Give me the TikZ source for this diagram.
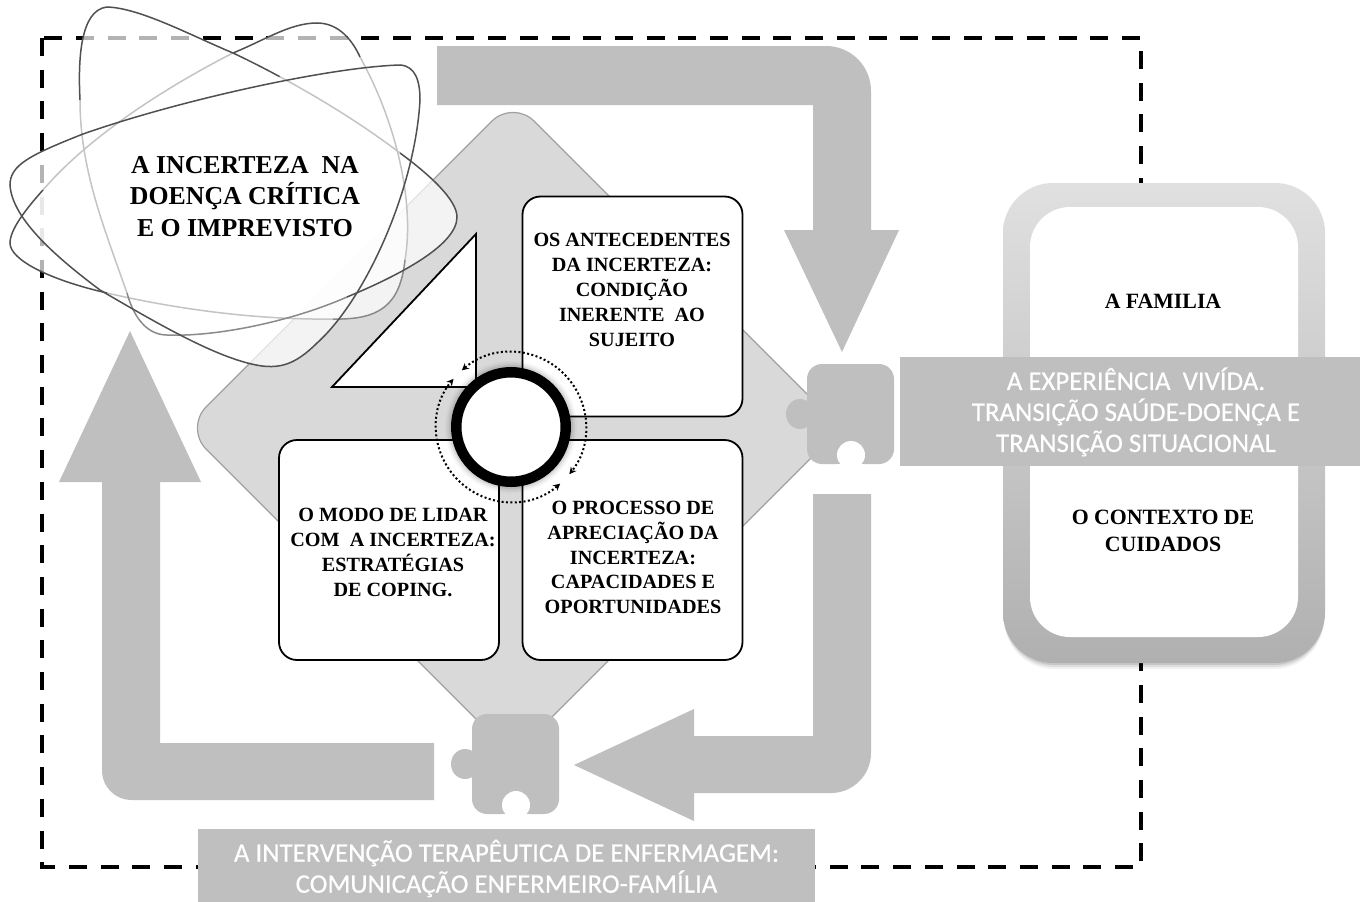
\documentclass[tikz,border=0pt]{standalone}
\usepackage{fontspec}
\setmainfont{Liberation Serif}
\newfontfamily\calfont[FakeBold=0.5]{Carlito}
\usetikzlibrary{arrows.meta}
\definecolor{arrowgray}{HTML}{BFBFBF}
\definecolor{diagray}{HTML}{D9D9D9}
\definecolor{diaedge}{HTML}{A0A0A0}
\definecolor{petaldark}{HTML}{505050}
\definecolor{petallight}{HTML}{C4C4C4}
\definecolor{petalmid}{HTML}{8A8A8A}
\tikzset{
  x=1pt,y=-1pt,
  bigarrow/.style={fill=arrowgray,draw=none},
  panel/.style={draw=black,line width=1.8pt,fill=white,rounded corners=18pt,minimum width=220pt,minimum height=220pt,inner sep=0pt},
  label/.style={font=\bfseries\fontsize{20.2}{24.8}\selectfont,align=center,inner sep=0pt,text=black},
  biglabel/.style={font=\bfseries\fontsize{25.8}{31.5}\selectfont,align=center,inner sep=0pt,text=black},
  sidelabel/.style={font=\bfseries\fontsize{21.8}{27}\selectfont,align=center,inner sep=0pt,text=black},
  bandlabel/.style={font=\calfont\fontsize{26.8}{31}\selectfont,align=center,inner sep=0pt,text=white},
  band/.style={fill=arrowgray,draw=none,inner sep=0pt},
  petalfill/.style={fill=white,fill opacity=.7,draw=none},
  pdark/.style={draw=petaldark,line width=1.5pt},
  pmid/.style={draw=petalmid,line width=1.5pt},
  plight/.style={draw=petallight,line width=1.5pt},
  dotarc/.style={line width=2pt,dash pattern=on 2pt off 2.4pt,
    {Stealth[length=7pt,width=7pt]}-{Stealth[length=7pt,width=7pt]}},
}
\newcommand{\puzzle}[2]{%
  \begin{scope}[shift={(#1,#2)}]
    \fill[arrowgray] (-7,50) ellipse[x radius=14pt,y radius=15pt];
    \fill[arrowgray,rounded corners=15pt] (0,0) rectangle (87,100);
    \fill[white] (44,91) circle[radius=14pt];
    \fill[white] (30,100) rectangle (58,106);
  \end{scope}}
\begin{document}
\begin{tikzpicture}
\useasboundingbox (0,0) rectangle (1360,902);
\fill[white] (0,0) rectangle (1360,902);
% dashed frame
\draw[line width=4.6pt,dash pattern=on 18pt off 13.7pt] (42,38) rectangle (1141,867);
% diamond
\draw[fill=diagray,draw=diaedge,line width=1.2pt,rounded corners=30pt]
  (513,100) -- (841,428) -- (513,756) -- (185,428) -- cycle;
% big arrows
\fill[bigarrow] (437,105) -- (437,46) -- (826,46) .. controls (851,46) and (871,66) .. (871,91)
  -- (871,230) -- (899,230) -- (842,352) -- (784,230) -- (813,230) -- (813,105) -- cycle;
\fill[bigarrow] (813,494) -- (871,494) -- (871,753) .. controls (871,775) and (853,793) .. (831,793)
  -- (694,793) -- (694,821) -- (574,765) -- (694,709) -- (694,736) -- (813,736) -- cycle;
\fill[bigarrow] (434,743) -- (434,800) -- (132,800) .. controls (115,800) and (102,787) .. (102,770)
  -- (102,482) -- (59,482) -- (130,331) -- (201,482) -- (160,482) -- (160,743) -- cycle;
% puzzle pieces
\puzzle{807}{364}
\puzzle{472}{714}
% panels
\node[panel] (antecedentes) at (632.5,306.5) {};
\node[panel] (apreciacao) at (632.5,550) {};
\node[panel] (coping) at (389,550) {};
\draw[line width=1.8pt,fill=white,line join=miter] (476,234) -- (476,387) -- (332,387) -- cycle;
% centre
\foreach \r/\o in {66/.03,64/.05,62/.08}{\fill[black,opacity=\o] (511,427) circle[radius=\r pt];}
\node[circle,draw=black,fill=white,line width=10.5pt,minimum size=109.5pt,inner sep=0pt] (centro) at (511,427) {};
\draw[dotarc] ([shift={(131:75pt)}]511,427) arc[start angle=131,end angle=-39,radius=75pt];
\draw[dotarc] ([shift={(-49:75pt)}]511,427) arc[start angle=-49,end angle=-220,radius=75pt];
% petals: fills
\def\petalA{(400,65) .. controls (415,66) and (420,80) .. (420,100) .. controls (415,190) and (365,300) .. (317,343) .. controls (295,365) and (280,368) .. (262,366) .. controls (220,360) and (160,325) .. (100,290) .. controls (60,260) and (12,220) .. (10,185) .. controls (10,165) and (30,155) .. (83,134) .. controls (180,100) and (330,67) .. (400,65) -- cycle}
\def\petalB{(107,7) .. controls (140,8) and (190,35) .. (233,53) .. controls (290,80) and (350,115) .. (400,153) .. controls (430,175) and (457,200) .. (457,217) .. controls (457,245) and (400,275) .. (347,297) .. controls (290,322) and (215,337) .. (167,335) .. controls (150,335) and (135,322) .. (127,293) .. controls (105,230) and (80,170) .. (80,100) .. controls (78,60) and (80,10) .. (107,7) -- cycle}
\def\petalC{(317,23) .. controls (290,23) and (265,40) .. (233,53) .. controls (170,85) and (90,135) .. (43,190) .. controls (25,210) and (10,230) .. (10,243) .. controls (10,260) and (50,280) .. (107,293) .. controls (180,310) and (260,320) .. (333,319) .. controls (380,320) and (400,305) .. (405,260) .. controls (415,200) and (395,120) .. (360,57) .. controls (350,35) and (335,23) .. (317,23) -- cycle}
\fill[petalfill] \petalC;
\fill[petalfill] \petalB;
\fill[petalfill] \petalA;
% petal C outline
\draw[plight] (233,53) .. controls (170,85) and (90,135) .. (43,190);
\draw[plight] (107,293) .. controls (180,310) and (260,320) .. (333,319);
\draw[plight] (405,260) .. controls (415,200) and (395,120) .. (360,57);
\draw[pmid] (333,319) .. controls (380,320) and (400,305) .. (405,260);
\draw[pdark] (360,57) .. controls (350,35) and (335,23) .. (317,23) .. controls (290,23) and (265,40) .. (233,53);
\draw[pdark] (43,190) .. controls (25,210) and (10,230) .. (10,243) .. controls (10,260) and (50,280) .. (107,293);
% petal B outline
\draw[plight] (279.6,76.6) .. controls (321.7,99.2) and (363.5,125.3) .. (400,153);
\draw[plight] (127,293) .. controls (105,230) and (80,170) .. (80,100);
\draw[pmid] (347,297) .. controls (290,322) and (215,337) .. (167,335) .. controls (150,335) and (135,322) .. (127,293);
\draw[pdark] (80,100) .. controls (78,60) and (80,10) .. (107,7) .. controls (140,8) and (190,35) .. (233,53) .. controls (248.4,60.3) and (264,68.2) .. (279.6,76.6);
\draw[pdark] (400,153) .. controls (430,175) and (457,200) .. (457,217) .. controls (457,245) and (400,275) .. (347,297);
% petal A outline
\draw[pdark] \petalA;
% texts
\node[biglabel] (titulo) at (245,196.5) {A INCERTEZA\ \ NA\\DOENÇA CRÍTICA\\E O IMPREVISTO};
\node[label] (t1) at (632,290) {OS ANTECEDENTES\\DA INCERTEZA:\\CONDIÇÃO\\INERENTE\ \ AO\\SUJEITO};
\node[label] (t2) at (633,557.5) {O PROCESSO DE\\APRECIAÇÃO DA\\INCERTEZA:\\CAPACIDADES E\\OPORTUNIDADES};
\node[label] (t3) at (393,552.5) {O MODO DE LIDAR\\COM\ \ A INCERTEZA:\\ESTRATÉGIAS\\DE COPING.};
% right frame
\foreach \s/\o in {6/.05,4/.08,2/.1}{\fill[black,opacity=\o,rounded corners=50pt] (1004,190) rectangle (1324,663+\s);}
\shade[top color=black!12,bottom color=black!31,rounded corners=50pt] (1003,183) rectangle (1325,663);
\fill[white,rounded corners=40pt] (1030,207) rectangle (1298,637);
\node[sidelabel] (familia) at (1163,301) {A FAMILIA};
\node[sidelabel] (contexto) at (1163,530.5) {O CONTEXTO DE\\CUIDADOS};
% bands
\node[band,minimum width=460pt,minimum height=109pt] (banda1) at (1130,411.5) {};
\node[bandlabel] (t4) at (1136,412) {A EXPERIÊNCIA\ \ VIVÍDA.\\TRANSIÇÃO SAÚDE-DOENÇA E\\TRANSIÇÃO SITUACIONAL};
\node[band,minimum width=617pt,minimum height=73pt] (banda2) at (506.5,865.5) {};
\node[bandlabel] (t5) at (506.5,868.5) {A INTERVENÇÃO TERAPÊUTICA DE ENFERMAGEM:\\COMUNICAÇÃO ENFERMEIRO-FAMÍLIA};
\end{tikzpicture}
\end{document}
